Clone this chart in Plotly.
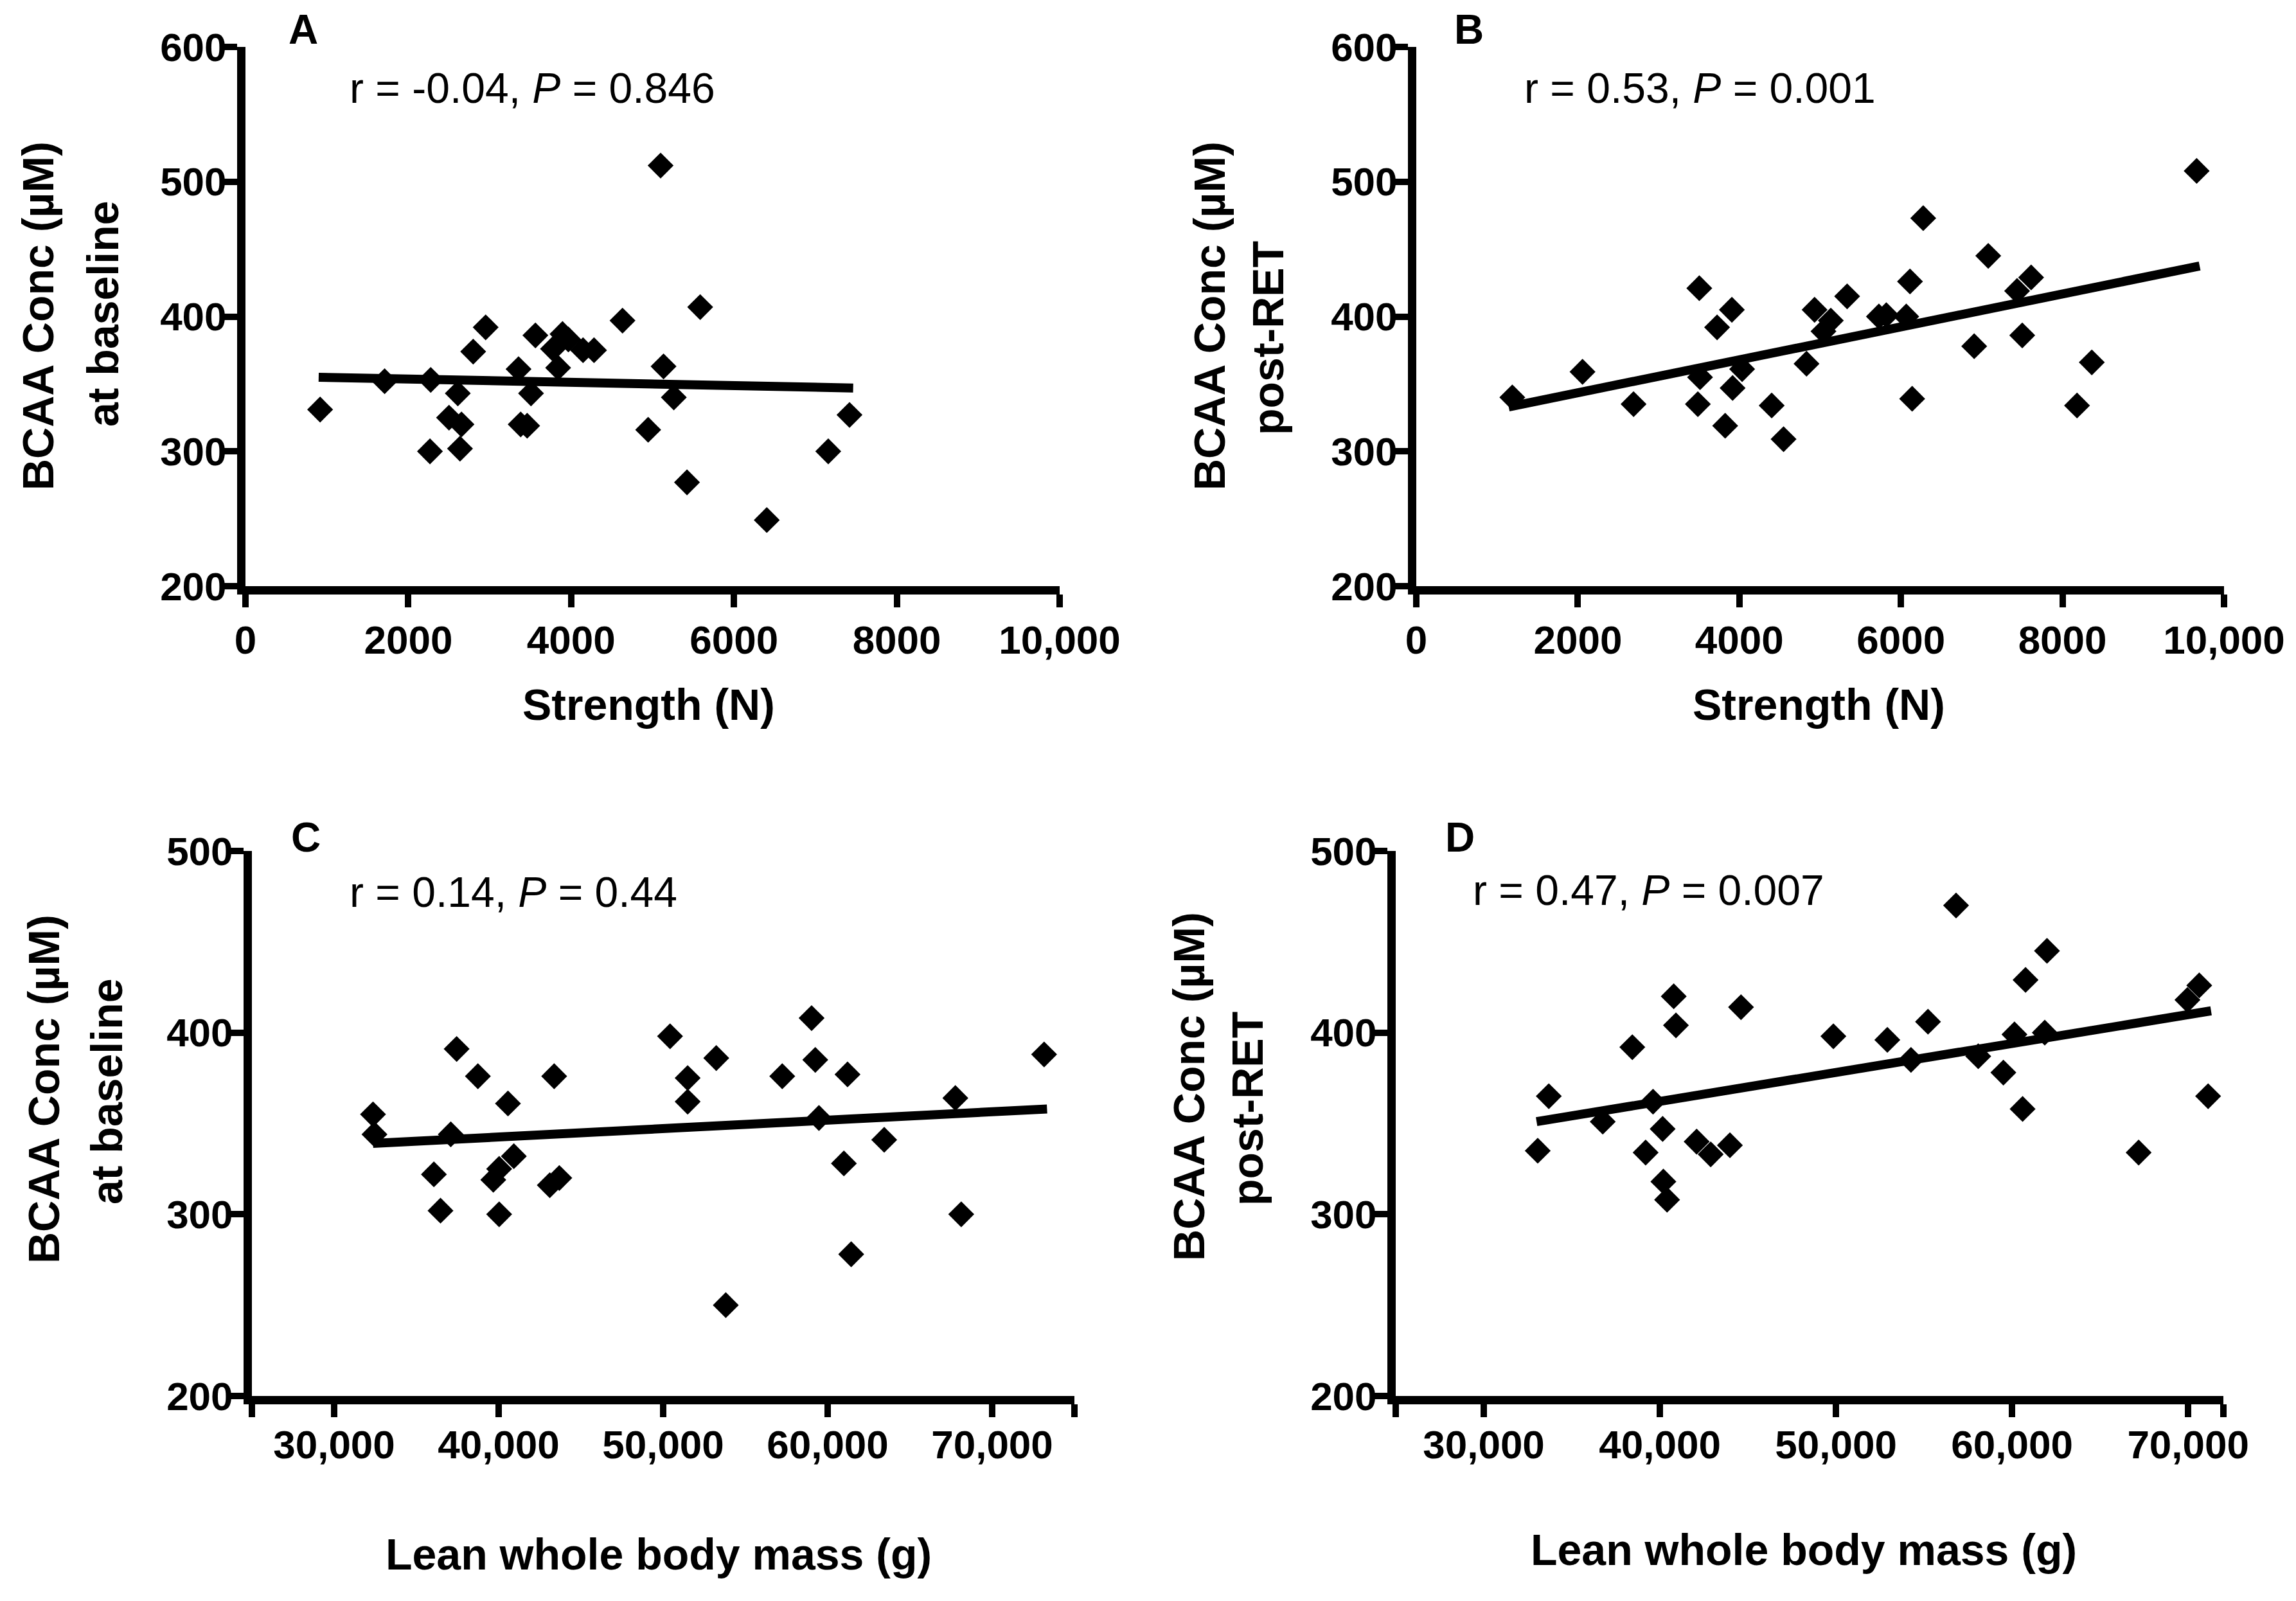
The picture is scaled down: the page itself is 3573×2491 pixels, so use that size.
import plotly.graph_objects as go

W, H = 3573, 2491

# ---------------- data ----------------
a_strength = [917, 1709, 2275, 2266, 2500, 2608, 2653, 2635, 2797, 2950, 3354, 3380, 3460,
              3507, 3561, 3777, 3840, 3894, 3966, 4146, 4281, 4631, 4946, 5099, 5135, 5261,
              5423, 5585, 6403, 7158, 7419]
a_bcaa = [331, 352, 353, 300, 325, 343, 320, 302, 374, 392, 361, 320, 319,
          343, 386, 376, 362, 387, 383, 375, 375, 397, 316, 512, 363, 340,
          277, 407, 249, 300, 327]
a_fit_x = [899, 7464]
a_fit_y = [355, 347]

b_strength = [1189, 2058, 2690, 3504, 3513, 3486, 3724, 3907, 3916, 3824, 4034, 4400, 4547,
              4831, 4931, 5041, 5132, 5334, 5727, 5819, 6066, 6112, 6139, 6276, 6907, 7081,
              7438, 7502, 7612, 8180, 8363, 9661]
b_bcaa = [340, 359, 335, 421, 355, 335, 392, 405, 347, 319, 361, 334, 309,
          365, 405, 389, 397, 415, 400, 401, 400, 426, 339, 473, 378, 445,
          419, 386, 429, 334, 366, 508]
b_fit_x = [1144, 9698]
b_fit_y = [333, 437.5]

c_lean = [32363, 32452, 36063, 36465, 37089, 37446, 38738, 39675, 40031, 40031, 40566, 40923,
          43107, 43687, 43375, 50419, 51489, 51489, 53228, 53807, 57240, 59024, 59247, 59470,
          60986, 61208, 61431, 63437, 67762, 68119, 73157]
c_bcaa = [355, 344, 322, 302, 344, 391, 376, 319, 325, 300, 361, 332,
          316, 320, 376, 398, 375, 362, 386, 250, 376, 408, 385, 353,
          328, 377, 278, 341, 364, 300, 388]
c_fit_x = [32363, 73336]
c_fit_y = [339, 358]

d_lean = [33064, 33693, 36757, 38436, 39192, 39612, 40157, 40199, 40409, 40787, 40913, 42088,
          42886, 43977, 44607, 49853, 52917, 54260, 55226, 56820, 58080, 59507, 60136, 60598,
          60766, 61857, 61983, 67188, 69958, 70630, 71133]
d_bcaa = [335, 365, 351, 392, 334, 362, 347, 318, 308, 420, 404, 340,
          333, 338, 414, 398, 396, 385, 406, 470, 387, 378, 399, 358,
          429, 400, 445, 334, 418, 426, 365]
d_fit_x = [33000, 71300]
d_fit_y = [351, 412]

strength_ticks = [0, 2000, 4000, 6000, 8000, 10000]
strength_labels = ["0", "2000", "4000", "6000", "8000", "10,000"]
lean_ticks_c = [25000, 30000, 40000, 50000, 60000, 70000, 75000]
lean_labels_c = ["", "30,000", "40,000", "50,000", "60,000", "70,000", ""]
lean_ticks_d = [25000, 30000, 40000, 50000, 60000, 70000, 72000]
lean_labels_d = ["", "30,000", "40,000", "50,000", "60,000", "70,000", ""]
bcaa_ticks_top = [200, 300, 400, 500, 600]
bcaa_ticks_bottom = [200, 300, 400, 500]

panel_letters = ["A", "B", "C", "D"]
stats_text = ["r = -0.04, <i>P</i> = 0.846", "r = 0.53, <i>P</i> = 0.001",
              "r = 0.14, <i>P</i> = 0.44", "r = 0.47, <i>P</i> = 0.007"]
y_title_line1 = ["BCAA Conc (µM)"] * 4
y_title_line2 = ["at baseline", "post-RET", "at baseline", "post-RET"]
x_titles = ["Strength (N)", "Strength (N)", "Lean whole body mass (g)", "Lean whole body mass (g)"]

FONT = "Liberation Sans, Arial, Helvetica, sans-serif"

# page offset of the plot inside the browser page (body margin)
OFF_X, OFF_Y = 8, 8


def px_x(v):
    return (v - OFF_X) / W


def px_y(v):
    return 1 - (v - OFF_Y) / H


domains = {
    1: dict(x=[px_x(382), px_x(1649)], y=[px_y(912), px_y(73)]),
    2: dict(x=[px_x(2204), px_x(3461)], y=[px_y(912), px_y(73)]),
    3: dict(x=[px_x(392), px_x(1672)], y=[px_y(2172), px_y(1324)]),
    4: dict(x=[px_x(2172), px_x(3460)], y=[px_y(2172), px_y(1324)]),
}

panels = [
    (a_strength, a_bcaa, a_fit_x, a_fit_y, [0, 10000], strength_ticks, strength_labels, [200, 600], bcaa_ticks_top),
    (b_strength, b_bcaa, b_fit_x, b_fit_y, [0, 10000], strength_ticks, strength_labels, [200, 600], bcaa_ticks_top),
    (c_lean, c_bcaa, c_fit_x, c_fit_y, [25000, 75000], lean_ticks_c, lean_labels_c, [200, 500], bcaa_ticks_bottom),
    (d_lean, d_bcaa, d_fit_x, d_fit_y, [25000, 72000], lean_ticks_d, lean_labels_d, [200, 500], bcaa_ticks_bottom),
]

fig = go.Figure()
layout = dict(
    width=W, height=H, margin=dict(l=0, r=0, t=0, b=0, pad=0, autoexpand=False),
    paper_bgcolor="white", plot_bgcolor="white", showlegend=False,
    font=dict(family=FONT, color="black"),
)

for i, (xs, ys, fx, fy, xr, xt, xl, yr, yt) in enumerate(panels, start=1):
    xa = "x" if i == 1 else f"x{i}"
    ya = "y" if i == 1 else f"y{i}"
    fig.add_trace(go.Scatter(x=xs, y=ys, mode="markers", xaxis=xa, yaxis=ya,
                             marker=dict(symbol="diamond", size=31, color="black", line=dict(width=0))))
    fig.add_trace(go.Scatter(x=fx, y=fy, mode="lines", xaxis=xa, yaxis=ya,
                             line=dict(color="black", width=14)))
    standoff = -2 if i <= 2 else -10
    layout[f"xaxis{'' if i == 1 else i}"] = dict(
        domain=domains[i]["x"], anchor=ya, range=xr, tickmode="array", tickvals=xt, ticktext=xl,
        showline=True, linewidth=13, linecolor="black", ticks="outside", ticklen=20, tickwidth=10,
        tickcolor="black", showgrid=False, zeroline=False, automargin=False,
        tickfont=dict(family=FONT, size=62, color="black", weight="bold"),
        ticklabelstandoff=standoff,
    )
    layout[f"yaxis{'' if i == 1 else i}"] = dict(
        domain=domains[i]["y"], anchor=xa, range=yr, tickmode="array", tickvals=yt,
        showline=True, linewidth=13, linecolor="black", ticks="outside", ticklen=20, tickwidth=10,
        tickcolor="black", showgrid=False, zeroline=False, automargin=False,
        tickfont=dict(family=FONT, size=62, color="black", weight="bold"),
        ticklabelstandoff=-16,
    )

fig.update_layout(**layout)

letter_pos = [(472, 46), (2286, 46), (476, 1303), (2272, 1303)]
stats_pos = [(542, 137), (2370, 137), (542, 1388), (2290, 1385)]
ytitle1_pos = [(59, 492), (1882, 492), (68, 1695), (1850, 1691)]
ytitle2_pos = [(160, 488), (1973, 526), (166, 1698), (1941, 1725)]
xtitle_pos = [(1009, 1096), (2830, 1096), (1025, 2418), (2807, 2411)]

for k in range(4):
    lx, ly = letter_pos[k]
    fig.add_annotation(text=f"<b>{panel_letters[k]}</b>", x=px_x(lx), y=px_y(ly), xref="paper", yref="paper",
                       showarrow=False, xanchor="center", yanchor="middle",
                       font=dict(family=FONT, size=64, color="black"))
    sx, sy = stats_pos[k]
    fig.add_annotation(text=stats_text[k], x=px_x(sx), y=px_y(sy), xref="paper", yref="paper",
                       showarrow=False, xanchor="left", yanchor="middle",
                       font=dict(family=FONT, size=66, color="black"))
    for (tx, ty), txt in ((ytitle1_pos[k], y_title_line1[k]), (ytitle2_pos[k], y_title_line2[k])):
        fig.add_annotation(text=f"<b>{txt}</b>", x=px_x(tx), y=px_y(ty), xref="paper", yref="paper",
                           showarrow=False, xanchor="center", yanchor="middle", textangle=-90,
                           font=dict(family=FONT, size=68, color="black"))
    qx, qy = xtitle_pos[k]
    fig.add_annotation(text=f"<b>{x_titles[k]}</b>", x=px_x(qx), y=px_y(qy), xref="paper", yref="paper",
                       showarrow=False, xanchor="center", yanchor="middle",
                       font=dict(family=FONT, size=68, color="black"))

fig.write_html("out.html")
